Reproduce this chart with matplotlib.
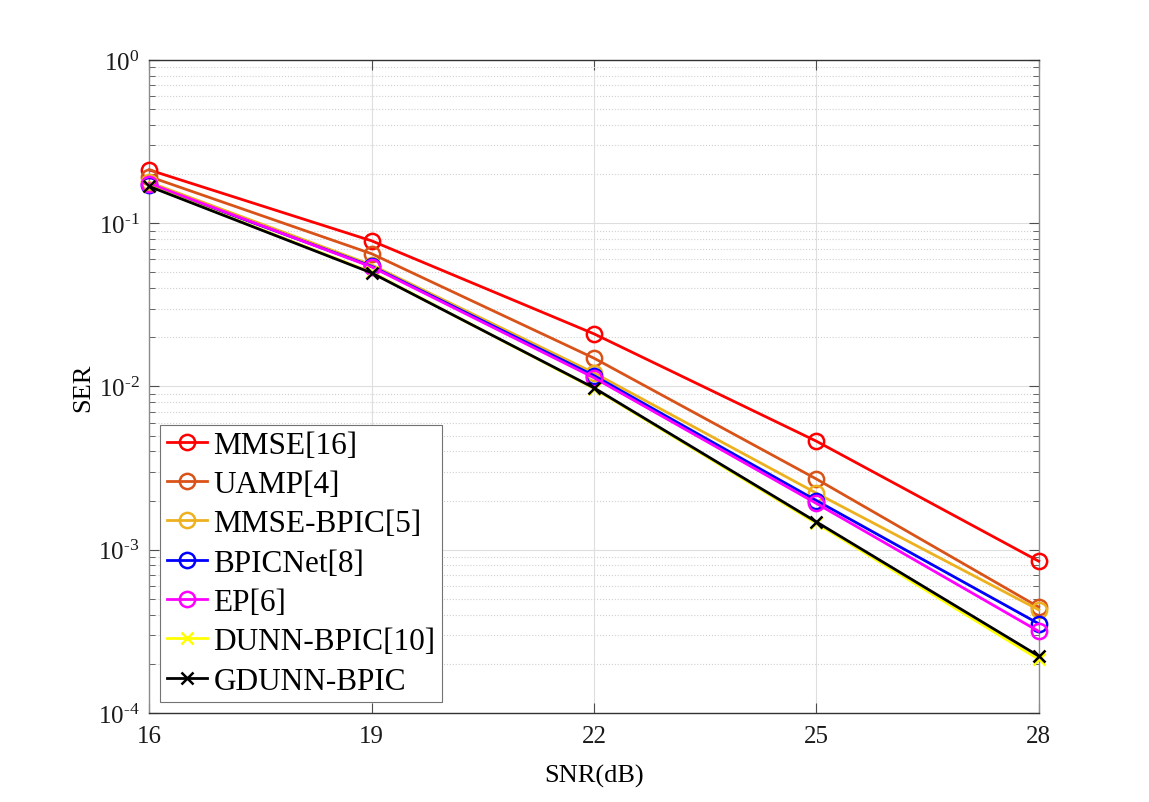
import numpy as np
from matplotlib import pyplot as plt
from matplotlib import ticker

plt.rcParams["font.family"] = ["Liberation Serif", "DejaVu Serif"]
plt.rcParams["mathtext.fontset"] = "custom"
plt.rcParams["mathtext.rm"] = "Liberation Serif"
plt.rcParams["mathtext.it"] = "Liberation Serif:italic"

# data
snr = [16, 19, 22, 25, 28]
mmse = [0.212, 0.078, 0.021, 0.00462, 0.00085]
uamp = [0.193, 0.065, 0.0149, 0.00271, 0.000445]
mmse_bpic = [0.178, 0.0555, 0.0121, 0.00222, 0.000428]
bpicnet = [0.172, 0.0545, 0.01166, 0.0020, 0.000352]
ep = [0.175, 0.0540, 0.0113, 0.00192, 0.000316]
dunn_bpic = [0.169, 0.0500, 0.0097, 0.00145, 0.000213]
gdunn_bpic = [0.168, 0.0496, 0.0098, 0.00148, 0.000223]

series = [
    ("MMSE[16]", mmse, (1, 0, 0), "o"),
    ("UAMP[4]", uamp, (0.85, 0.325, 0.098), "o"),
    ("MMSE-BPIC[5]", mmse_bpic, (0.929, 0.694, 0.125), "o"),
    ("BPICNet[8]", bpicnet, (0, 0, 1), "o"),
    ("EP[6]", ep, (1, 0, 1), "o"),
    ("DUNN-BPIC[10]", dunn_bpic, (1, 1, 0), "x"),
    ("GDUNN-BPIC", gdunn_bpic, (0, 0, 0), "x"),
]

fig = plt.figure(figsize=(11.49, 8.03), dpi=100)
ax = fig.add_axes([0.130, 0.111, 0.774, 0.813])

for name, vals, col, mk in series:
    ax.semilogy(snr, vals, color=col, marker=mk, markersize=11 if mk == "o" else 9,
                markerfacecolor="none", markeredgewidth=1.8, linewidth=2, label=name,
                clip_on=False, zorder=3)

ax.set_xlim(16, 28)
ax.set_ylim(1e-4, 1)
ax.set_xticks(snr)
ax.yaxis.set_major_locator(ticker.LogLocator(base=10, numticks=10))
ax.yaxis.set_minor_locator(ticker.LogLocator(base=10, subs=np.arange(2, 10), numticks=50))
ax.yaxis.set_minor_formatter(ticker.NullFormatter())
# MATLAB style exponent with a plain hyphen
ax.yaxis.set_major_formatter(ticker.FuncFormatter(
    lambda v, pos: r"$10^{\text{%d}}$" % int(round(np.log10(v)))))

ax.grid(True, which="major", color=(0.87, 0.87, 0.87), linewidth=0.8)
ax.grid(True, which="minor", axis="y", color=(0.82, 0.82, 0.82), linestyle=":", linewidth=0.8)
ax.set_axisbelow(True)

ax.tick_params(which="both", direction="in", top=True, right=True, colors=(0.3, 0.3, 0.3),
               labelsize=18, labelcolor=(0.1, 0.1, 0.1))
ax.tick_params(axis="x", pad=9)
ax.tick_params(axis="y", pad=7)
ax.tick_params(which="major", length=7)
ax.tick_params(which="minor", length=4)
for side in ["left", "right"]:
    ax.spines[side].set_color((0.55, 0.55, 0.55))
for side in ["top", "bottom"]:
    ax.spines[side].set_color((0.2, 0.2, 0.2))
for sp in ax.spines.values():
    sp.set_linewidth(1)

ax.set_xlabel("SNR(dB)", fontsize=19, labelpad=12)
ax.set_ylabel("SER", fontsize=19, labelpad=3)

leg = ax.legend(loc="lower left", fontsize=22.5, fancybox=False, framealpha=1,
                edgecolor=(0.45, 0.45, 0.45), handlelength=1.3, handletextpad=0.2,
                borderaxespad=0.35, labelspacing=0.33, borderpad=0.2)
leg.get_frame().set_linewidth(0.8)

fig.savefig("out.png", dpi=100)
